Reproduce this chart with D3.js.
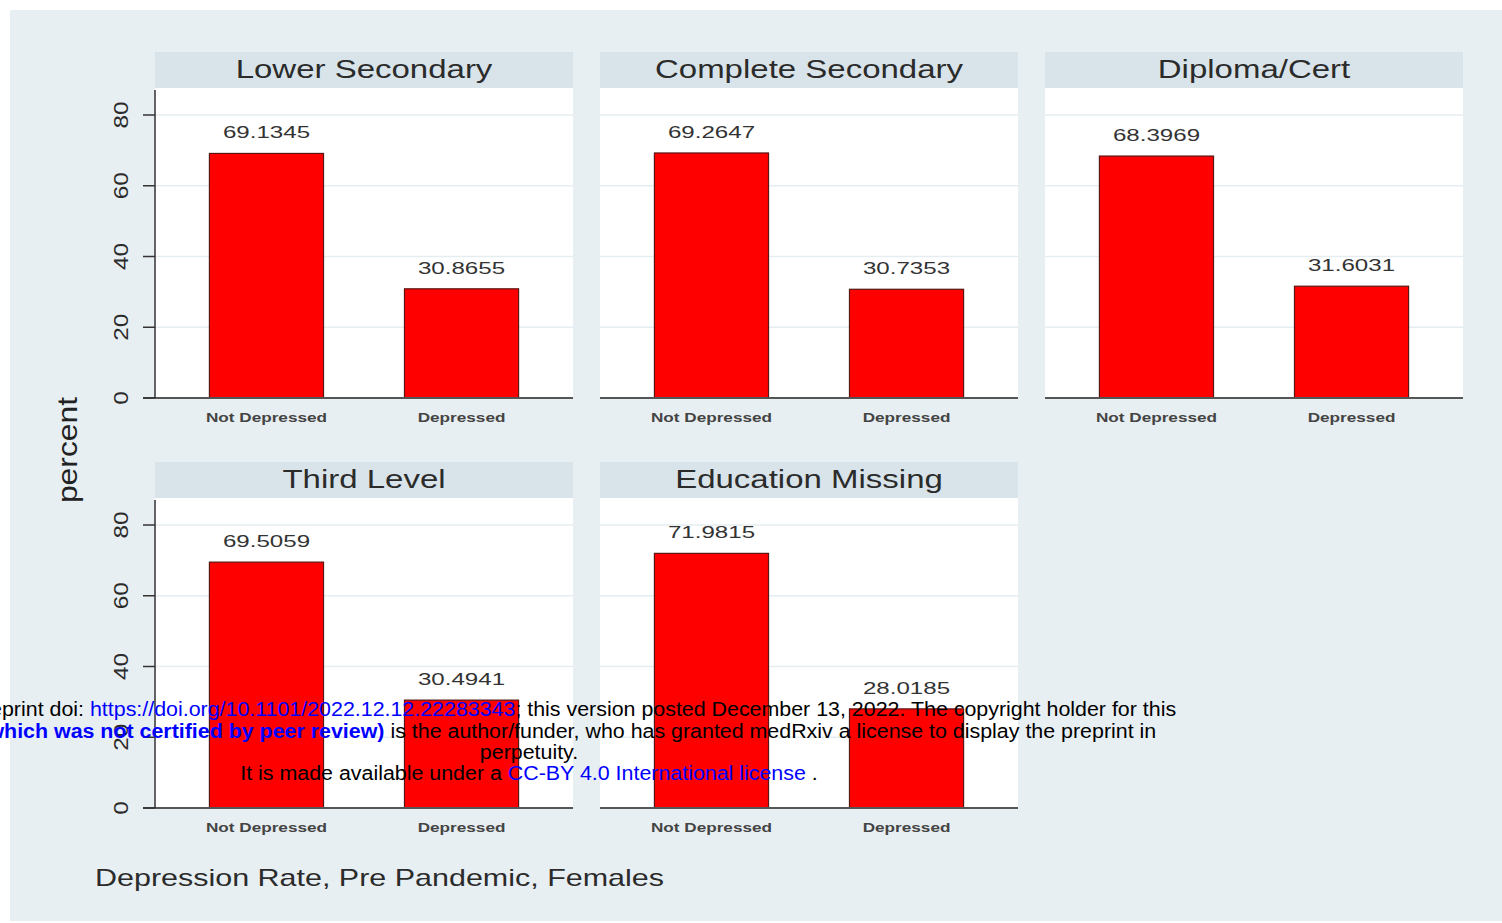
<!DOCTYPE html>
<html>
<head>
<meta charset="utf-8">
<script src="https://cdn.jsdelivr.net/npm/d3@7"></script>
<style>
  body { margin: 0; background: #fff; }
  svg { display: block; }
  text { font-family: "Liberation Sans", Arial, sans-serif; }
</style>
</head>
<body>
<svg id="chart" width="1502" height="923"></svg>
<script>
// values
const panelNames = ["Lower Secondary", "Complete Secondary", "Diploma/Cert", "Third Level", "Education Missing"];
const categories = ["Not Depressed", "Depressed"];
const notDepressed = [69.1345, 69.2647, 68.3969, 69.5059, 71.9815];
const depressed = [30.8655, 30.7353, 31.6031, 30.4941, 28.0185];
const yTicks = [0, 20, 40, 60, 80];

const svg = d3.select("#chart");
const width = 1502, height = 923;

// outer graph region
svg.append("rect").attr("x", 10).attr("y", 10).attr("width", width - 10).attr("height", height - 12)
  .attr("fill", "#e8eff2");

const panelW = 418, headerH = 36, plotH = 310;
const colLeft = [155, 600, 1045];
const rowBase = [398, 808];

// stretched text, the stata font is wide
function stext(g, x, y, txt, o) {
  return g.append("text")
    .attr("transform", `translate(${x},${y}) rotate(${o.rot || 0}) scale(${o.sx || 1},1)`)
    .attr("text-anchor", o.anchor || "middle")
    .attr("font-size", o.size)
    .attr("font-weight", o.weight || "normal")
    .attr("fill", o.fill || "#333")
    .text(txt);
}

const x = d3.scaleBand().domain(categories).range([0, panelW]).paddingInner(0.415).paddingOuter(0.279);
const y = d3.scaleLinear().domain([0, 80]).range([0, -283]);

panelNames.forEach((name, i) => {
  const col = i % 3, row = Math.floor(i / 3);
  const g = svg.append("g").attr("transform", `translate(${colLeft[col]},${rowBase[row]})`);
  const vals = [notDepressed[i], depressed[i]];

  // header strip
  g.append("rect").attr("x", 0).attr("y", -plotH - headerH).attr("width", panelW).attr("height", headerH)
    .attr("fill", "#d9e4ea");
  stext(g, panelW / 2, -plotH - 10, name, { size: 25, sx: 1.32, fill: "#2b2b2b" });

  // plot region
  g.append("rect").attr("x", 0).attr("y", -plotH).attr("width", panelW).attr("height", plotH).attr("fill", "#fff");

  g.selectAll(".grid").data(yTicks.slice(1)).enter().append("line")
    .attr("x1", 0).attr("x2", panelW).attr("y1", d => y(d)).attr("y2", d => y(d))
    .attr("stroke", "#e6edf1").attr("stroke-width", 1.5);

  g.selectAll(".bar").data(vals).enter().append("rect")
    .attr("x", (d, j) => x(categories[j]))
    .attr("y", d => y(d))
    .attr("width", x.bandwidth())
    .attr("height", d => -y(d))
    .attr("fill", "#ff0000")
    .attr("stroke", "#5a1515").attr("stroke-width", 1.2);

  vals.forEach((v, j) => {
    stext(g, x(categories[j]) + x.bandwidth() / 2, y(v) - 15, String(v), { size: 17, sx: 1.42, fill: "#333" });
  });

  categories.forEach(c => {
    stext(g, x(c) + x.bandwidth() / 2, 24, c, { size: 13, sx: 1.32, weight: "bold", fill: "#444" });
  });

  // baseline
  g.append("line").attr("x1", col === 0 ? -12 : 0).attr("x2", panelW).attr("y1", 0).attr("y2", 0)
    .attr("stroke", "#555").attr("stroke-width", 2.2);

  if (col === 0) {
    g.append("line").attr("x1", 0).attr("x2", 0).attr("y1", -plotH + 2).attr("y2", 0)
      .attr("stroke", "#333").attr("stroke-width", 1.5);
    g.selectAll(".tick").data(yTicks).enter().append("line")
      .attr("x1", -12).attr("x2", 0).attr("y1", d => y(d)).attr("y2", d => y(d))
      .attr("stroke", "#333").attr("stroke-width", 1.5);
    yTicks.forEach(t => {
      stext(g, -27, y(t), String(t), { size: 20, sx: 1.22, rot: -90, fill: "#2b2b2b" });
    });
  }
});

// axis title
stext(svg, 77, 450, "percent", { size: 27, sx: 1.18, rot: -90, fill: "#222" });

// note at bottom
stext(svg, 95, 886, "Depression Rate, Pre Pandemic, Females", { size: 24, sx: 1.27, anchor: "start", fill: "#2b2b2b" });

// medRxiv stamp over the figure
const cx = 529;
const stamp = svg.append("g").attr("font-size", 20).attr("fill", "#000")
  .attr("transform", `translate(${cx},0) scale(1.07,1)`);
function stampLine(yy, parts) {
  const t = stamp.append("text").attr("x", 0).attr("y", yy).attr("text-anchor", "middle");
  parts.forEach(p => {
    t.append("tspan").attr("fill", p.c || "#000").attr("font-weight", p.b ? "bold" : "normal").text(p.t);
  });
}
stampLine(716, [
  { t: "medRxiv preprint doi: " },
  { t: "https://doi.org/10.1101/2022.12.12.22283343", c: "#0000ff" },
  { t: "; this version posted December 13, 2022. The copyright holder for this" }
]);
stampLine(738, [
  { t: "preprint " },
  { t: "(which was not certified by peer review)", c: "#0000ff", b: true },
  { t: " is the author/funder, who has granted medRxiv a license to display the preprint in" }
]);
stampLine(759, [{ t: "perpetuity." }]);
stampLine(780, [
  { t: "It is made available under a " },
  { t: "CC-BY 4.0 International license", c: "#0000ff" },
  { t: " ." }
]);
</script>
</body>
</html>
